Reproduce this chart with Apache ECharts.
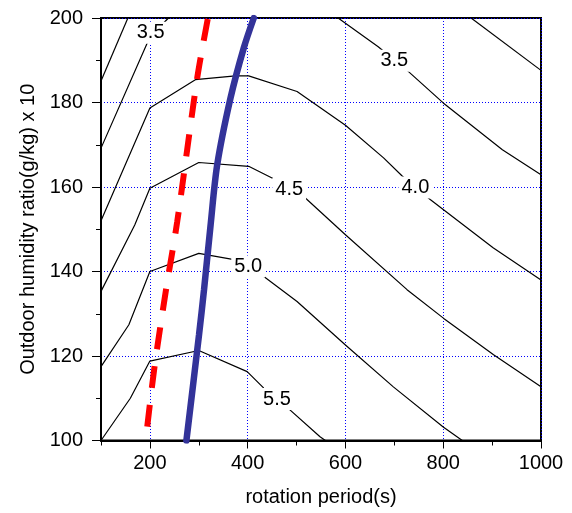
<!DOCTYPE html>
<html>
<head>
<meta charset="utf-8">
<script src="https://cdn.jsdelivr.net/npm/echarts@6/dist/echarts.min.js"></script>
<style>
html,body{margin:0;padding:0;background:#fff;}
#chart{width:572px;height:513px;}
</style>
</head>
<body>
<div id="chart"></div>
<script>
// ---- tick values ----
const xMajorTicks = [200, 400, 600, 800, 1000];
const xMinorTicks = [100, 300, 500, 700, 900];
const xGridLines = [200, 400, 600, 800];

// ---- contour lines [rotation period, humidity ratio x10] ----
const contour30Left = [[100, 185.1], [155, 200]];
const contour30Right = [[857, 200], [1000, 187.6]];
const contour35Left = [[100, 169.2], [194.6, 194.1], [200, 195.5], [238, 200]];
const contour35Right = [[585, 200], [667, 193.2], [729, 187.3], [800, 179.9], [921, 168.8], [1000, 162.9]];
const contour40 = [[100, 152.0], [200, 178.7], [293, 185.4], [375, 186.3], [402, 186.3], [501, 182.6], [600, 174.6], [678, 166.9], [716, 162.6], [774, 157.0], [902, 145.6], [1000, 138.0]];
const contour45 = [[100, 135.3], [169, 151.0], [200, 159.7], [300, 165.8], [402, 164.9], [457, 161.7], [518, 157.4], [600, 148.7], [726, 135.7], [801, 128.9], [903, 120.3], [1000, 112.7]];
const contour50 = [[100, 117.5], [157, 127.4], [200, 140.0], [300, 144.3], [372, 142.8], [433, 138.8], [501, 132.9], [600, 122.6], [698, 112.7], [800, 103.2], [839, 100]];
const contour55 = [[100, 100], [160, 110.0], [200, 118.8], [300, 121.3], [399, 116.3], [433, 112.4], [487, 107.2], [548, 100.9], [559, 100]];

// ---- contour labels [x, y, text] ----
const contourLabels = [
  [201.5, 196.5, '3.5'],
  [700, 189.9, '3.5'],
  [743, 159.9, '4.0'],
  [485, 159.5, '4.5'],
  [401, 141.2, '5.0'],
  [460, 109.8, '5.5']
];

// ---- thick curves ----
const redDashed = [[194.6, 103.3], [209.5, 117.5], [233.5, 136.05], [255.9, 151.8], [296.8, 185.8], [318.7, 200]];
const blueSolid = [[274.7, 100], [300.5, 125.0], [310.7, 135.65], [324.0, 150.8], [337.7, 165.25], [364.9, 181.05], [392.0, 192.9], [412.5, 200]];

const FONT = "'Liberation Sans', Arial, Helvetica, sans-serif";
const GRID_BLUE = '#0000ff';

function contourSeries(data) {
  return {
    type: 'line', data: data, showSymbol: false, symbol: 'none', silent: true, z: 2,
    lineStyle: { color: '#000', width: 1.2 }, clip: true
  };
}

const chart = echarts.init(document.getElementById('chart'), null, { renderer: 'canvas' });

const option = {
  animation: false,
  backgroundColor: '#fff',
  grid: { left: 101, right: 31, top: 18, bottom: 72.5, show: true, borderColor: '#000', borderWidth: 2, backgroundColor: 'transparent', containLabel: false },
  xAxis: [
    {
      type: 'value', min: 100, max: 1000, interval: 100, position: 'bottom',
      name: 'rotation period(s)', nameLocation: 'middle', nameGap: 47,
      nameTextStyle: { fontSize: 20, color: '#000', fontFamily: FONT },
      axisLine: { show: true, lineStyle: { color: '#000', width: 2 } },
      axisTick: { show: true, length: 5, lineStyle: { color: '#000', width: 1 } },
      axisLabel: { fontSize: 20, color: '#000', margin: 13, fontFamily: FONT,
        formatter: function (v) { return xMajorTicks.indexOf(v) >= 0 ? String(v) : ''; } },
      splitLine: { show: false }
    },
    {
      type: 'value', min: 100, max: 1000, interval: 100, position: 'bottom',
      axisLine: { show: false },
      axisTick: { show: true, length: 8, customValues: xMajorTicks, lineStyle: { color: '#000', width: 1 } },
      axisLabel: { show: false },
      splitLine: { show: true, lineStyle: { color: GRID_BLUE, type: [1, 2], width: 1 } }
    }
  ],
  yAxis: {
    type: 'value', min: 100, max: 200, interval: 20, position: 'left',
    name: 'Outdoor humidity ratio(g/kg) x 10', nameLocation: 'middle', nameGap: 60, nameRotate: 90,
    nameTextStyle: { fontSize: 20, color: '#000', fontFamily: FONT },
    axisLine: { show: true, lineStyle: { color: '#000', width: 2 } },
    axisTick: { show: true, length: 9, lineStyle: { color: '#000', width: 1 } },
    minorTick: { show: true, splitNumber: 2, length: 5, lineStyle: { color: '#000', width: 1 } },
    axisLabel: { fontSize: 20, color: '#000', margin: 18, fontFamily: FONT },
    splitLine: { show: true, lineStyle: { color: GRID_BLUE, type: [1, 2], width: 1 } }
  },
  series: [
    contourSeries(contour30Left),
    contourSeries(contour30Right),
    contourSeries(contour35Left),
    contourSeries(contour35Right),
    contourSeries(contour40),
    contourSeries(contour45),
    contourSeries(contour50),
    contourSeries(contour55),
    {
      type: 'line', data: redDashed, showSymbol: false, symbol: 'none', silent: true, z: 4, smooth: 0.3,
      lineStyle: { color: '#ff0000', width: 6, type: [22, 17], cap: 'butt' }
    },
    {
      type: 'line', data: blueSolid, showSymbol: false, symbol: 'none', silent: true, z: 4, smooth: 0.3,
      lineStyle: { color: '#333399', width: 6.5, cap: 'round' }
    },
    {
      type: 'scatter', data: contourLabels, symbolSize: 1, silent: true, z: 5,
      itemStyle: { color: '#ffffff', opacity: 1 },
      label: {
        show: true, position: 'inside', fontSize: 20, color: '#000000', fontFamily: FONT,
        textBorderWidth: 0, textBorderColor: 'transparent',
        backgroundColor: '#fff', padding: [1, 3],
        formatter: function (p) { return p.value[2]; }
      }
    }
  ]
};
chart.setOption(option);
</script>
</body>
</html>
